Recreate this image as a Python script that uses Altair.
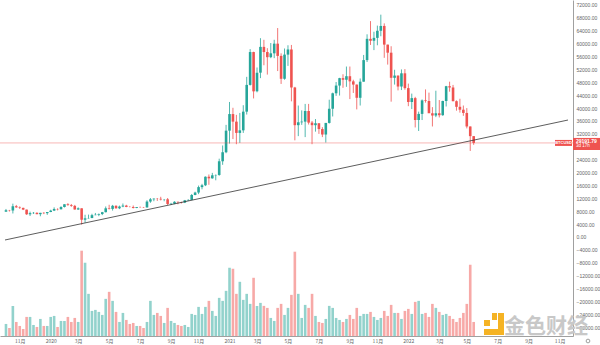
import altair as alt
import pandas as pd

# Weekly BTCUSD candles, first week starting 2019-10-07
OPEN = [7860, 8300, 8220, 9550, 9200, 9040, 8500, 7050, 7400, 7500, 7080, 7500, 7390,
        7760, 8180, 8700, 8600, 9300, 10150, 9900, 9660, 8530, 8900, 5360, 5800, 5880, 6780, 6900, 7120, 7700,
        8900, 8720, 9680, 8900, 9450, 9750, 9330, 9300, 9010, 9280, 9240, 9170, 11000, 11700, 11900, 11850,
        11650, 11700, 10250, 10330, 10930, 10770, 10670, 11390, 11500, 13030, 13800, 15480, 16050, 18700,
        18200, 19150, 19250, 23500, 26300,
        33000, 38150, 35800, 32300, 33100, 38900, 47200, 57400, 45200, 51000, 59000, 57400, 55800, 57000,
        60000, 56200, 49100, 56600, 58200, 46400, 34700, 35600, 35800, 39100, 35500, 34700, 35300, 33500,
        31800, 35400, 39800, 44600, 47000, 49300, 48800, 49900, 48300, 47300, 43200, 48200, 54900, 61500,
        60900, 61800, 64000, 65500, 59700, 57200, 49400, 50100, 46700, 50800,
        46200, 41900, 43100, 36300, 38200, 42400, 42200, 38400, 37700, 38400, 37800, 42200, 46800, 46400,
        42150, 40400, 39500, 38500, 34300, 31300]
HIGH = [8700, 8410, 10350, 9950, 9500, 9100, 8500, 7870, 7750, 7670, 7500, 7700, 7520,
        8450, 9200, 8900, 9550, 10150, 10500, 10250, 9960, 9190, 8900, 6900, 6950, 7200, 7460, 7300, 7790, 9470,
        10000, 9950, 9840, 9750, 10400, 9990, 9580, 9770, 9300, 9450, 9320, 11400, 12100, 12000, 12100, 12480,
        11800, 12100, 10600, 11100, 10980, 10940, 11500, 11720, 13350, 14060, 15960, 16500, 18800, 19400,
        19900, 19400, 24300, 28400, 34800,
        41900, 40100, 37900, 38500, 40900, 49700, 58300, 57500, 52600, 61700, 61200, 58600, 60200, 61200,
        64850, 57000, 58500, 59500, 59600, 46600, 40800, 39300, 41300, 41300, 36000, 36600, 35300, 34100,
        35400, 42600, 44800, 48100, 49400, 50500, 52900, 52900, 48800, 47300, 49200, 56500, 62900, 67000,
        63700, 65600, 69000, 66300, 59700, 59200, 51900, 50100, 52000, 52100,
        47600, 44500, 43500, 38900, 42700, 45800, 44800, 40300, 45400, 42500, 42300, 46900, 48200, 47200,
        42400, 42900, 40800, 40000, 34300, 31300]
LOW = [7800, 7900, 7300, 9070, 8700, 8350, 6850, 6520, 7150, 7050, 6430, 7100, 6870,
       7700, 8050, 8250, 8550, 9150, 9700, 9350, 8500, 8430, 3850, 4450, 5700, 5860, 6750, 6460, 6780, 7640,
       8530, 8200, 8800, 8650, 9250, 9250, 9200, 8850, 8950, 9060, 9050, 9150, 10600, 11100, 11200, 11350,
       11100, 9900, 9900, 10200, 10140, 10380, 10530, 11230, 11400, 12950, 13300, 14800, 15800, 16200,
       18100, 17600, 19000, 22400, 26000,
       29000, 30400, 28800, 29200, 32300, 38000, 47000, 43000, 44900, 49300, 53300, 50400, 55500, 55500,
       51500, 47500, 48800, 53100, 42100, 30000, 31300, 34800, 31000, 34900, 28800, 32700, 32000, 31000,
       29300, 35200, 37400, 43800, 43900, 46300, 46600, 42800, 44700, 39600, 40800, 48200, 54300, 59600,
       58000, 59500, 62300, 55600, 53500, 42000, 47300, 45500, 45600, 45700,
       40600, 39700, 34000, 32900, 36300, 41700, 39500, 34300, 37200, 37100, 37600, 40500, 45100, 42100,
       39200, 38600, 37600, 33700, 26700, 28600]
CLOSE = [8300, 8220, 9550, 9200, 9040, 8500, 7050, 7400, 7500, 7080, 7500, 7390, 7760,
         8180, 8700, 8600, 9300, 10150, 9900, 9660, 8530, 8900, 5360, 5800, 5880, 6780, 6900, 7120, 7700, 8900,
         8720, 9680, 8900, 9450, 9750, 9330, 9300, 9010, 9280, 9240, 9170, 11000, 11700, 11900, 11850, 11650,
         11700, 10250, 10330, 10930, 10770, 10670, 11390, 11500, 13030, 13800, 15480, 16050, 18700, 18200,
         19150, 19250, 23500, 26300, 33000,
         38150, 35800, 32300, 33100, 38900, 47200, 57400, 45200, 51000, 59000, 57400, 55800, 57000, 60000,
         56200, 49100, 56600, 58200, 46400, 34700, 35600, 35800, 39100, 35500, 34700, 35300, 33500, 31800,
         35400, 39800, 44600, 47000, 49300, 48800, 49900, 48300, 47300, 43200, 48200, 54900, 61500, 60900,
         61800, 64000, 65500, 59700, 57200, 49400, 50100, 46700, 50800, 46200,
         41900, 43100, 36300, 38200, 42400, 42200, 38400, 37700, 38400, 37800, 42200, 46800, 46400, 42150,
         40400, 39500, 38500, 34300, 31300, 29191.79]
VOLUME = [12, 8, 30, 14, 10, 7, 19, 19, 11, 9, 17, 10, 10,
          19, 20, 9, 15, 15, 19, 14, 18, 14, 85, 73, 42, 25, 26, 24, 21, 37,
          44, 35, 24, 14, 23, 16, 12, 13, 10, 10, 8, 14, 35, 21, 23, 20,
          13, 28, 15, 13, 11, 10, 11, 9, 22, 21, 29, 22, 29, 35,
          25, 20, 38, 35, 45,
          68, 67, 42, 54, 36, 42, 32, 58, 30, 33, 30, 28, 18, 15,
          28, 32, 21, 28, 41, 84, 42, 18, 31, 28, 42, 20, 14, 13,
          17, 30, 28, 18, 16, 14, 17, 21, 17, 28, 20, 22, 22, 24,
          19, 16, 18, 25, 20, 31, 23, 23, 17, 25,
          27, 22, 34, 35, 22, 23, 19, 32, 28, 24, 21, 22, 20, 17,
          14, 18, 23, 32, 71, 14]

TREND_DATES = ["2019-10-05", "2022-11-24"]
TREND_VALUES = [-930, 36300]

# 28000 is hidden behind the last-price tag in the reference
TICK_VALUES = [v for v in range(-28000, 72001, 4000) if v != 28000]
LABEL_DATES = [(2019, 11, 4), (2020, 1, 6), (2020, 3, 2), (2020, 5, 4), (2020, 7, 6), (2020, 9, 7),
               (2020, 11, 2), (2021, 1, 4), (2021, 3, 1), (2021, 5, 3), (2021, 7, 5), (2021, 9, 6),
               (2021, 11, 1), (2022, 1, 3), (2022, 3, 7), (2022, 5, 2), (2022, 7, 4), (2022, 9, 5),
               (2022, 11, 7)]

SYMBOL = "BTCUSD"
COUNTDOWN = "3d 17h"

UP = "#26a69a"
DOWN = "#ef5350"
FONT = "Liberation Sans"

n = len(OPEN)
dates = pd.date_range("2019-10-07", periods=n, freq="7D").strftime("%Y-%m-%d")
df = pd.DataFrame({
    "date": dates, "open": OPEN, "high": HIGH, "low": LOW, "close": CLOSE, "volume": VOLUME,
})
df["dir"] = ["up" if c >= o else "down" for o, c in zip(OPEN, CLOSE)]

tdf = pd.DataFrame({"date": TREND_DATES, "value": TREND_VALUES})

last = CLOSE[-1]
pdf = pd.DataFrame({
    "price": [last],
    "label": [f"{last:.2f}"],
    "cd": [COUNTDOWN],
    "sym": [SYMBOL],
    "btop": [last + 1550], "bbot": [last - 2200],
    "stop": [last + 930], "sbot": [last - 930],
})

xscale = alt.Scale(type="utc", domain=[alt.DateTime(year=2019, month=10, date=5, utc=True),
                                       alt.DateTime(year=2022, month=11, date=24, utc=True)])
xaxis = alt.Axis(
    values=[alt.DateTime(year=y, month=m, date=d, utc=True) for (y, m, d) in LABEL_DATES],
    labelExpr="utcmonth(datum.value) == 0 ? '' + utcyear(datum.value) : (utcmonth(datum.value) + 1) + '月'",
    labelFontSize=5, labelColor="#666", labelFont="Noto Sans CJK SC", ticks=False,
    labelPadding=2, domainColor="#888", domainWidth=0.8, grid=False, title=None,
    labelOverlap=False,
)
X = alt.X("date:T", scale=xscale, axis=xaxis)

yscale = alt.Scale(domain=[-30725, 73550], nice=False, zero=False)
yaxis = alt.Axis(orient="right", values=TICK_VALUES, format=".2f", labelFontSize=5, labelColor="#666",
                 labelFont=FONT, ticks=False, labelPadding=3, domainColor="#888", domainWidth=0.8,
                 grid=False, title=None, labelOverlap=False, labelBound=False)


def Y(field):
    return alt.Y(field, scale=yscale, axis=yaxis)


color = alt.Color("dir:N", scale=alt.Scale(domain=["up", "down"], range=[UP, DOWN]), legend=None)

vol = alt.Chart(df).mark_bar(size=2.6, opacity=0.5).encode(
    x=X,
    y=alt.Y("volume:Q", scale=alt.Scale(domain=[0, max(VOLUME) * 336 / 85.3], nice=False), axis=None),
    color=color,
)

wick = alt.Chart(df).mark_rule(strokeWidth=0.8).encode(x=X, y=Y("low:Q"), y2="high:Q", color=color)
body = alt.Chart(df).mark_bar(size=2.6).encode(x=X, y=Y("open:Q"), y2="close:Q", color=color)
trend = alt.Chart(tdf).mark_line(color="#333333", strokeWidth=0.8, clip=True).encode(x=X, y=Y("value:Q"))
pline = alt.Chart(pdf).mark_rule(color=DOWN, strokeWidth=0.7, opacity=0.6).encode(y=Y("price:Q"))
pbox = alt.Chart(pdf).mark_rect(color=DOWN).encode(
    x=alt.value(573), x2=alt.value(600), y=Y("btop:Q"), y2="bbot:Q")
ptext = alt.Chart(pdf).mark_text(color="white", fontSize=5, font=FONT, fontWeight="bold",
                                 align="left", baseline="middle", dy=-1.5).encode(
    x=alt.value(576), y=Y("price:Q"), text="label:N")
ptext2 = alt.Chart(pdf).mark_text(color="white", fontSize=4.5, font=FONT, align="left",
                                  baseline="middle", dy=3.5).encode(
    x=alt.value(576), y=Y("price:Q"), text="cd:N")
sbox = alt.Chart(pdf).mark_rect(color=DOWN).encode(
    x=alt.value(555), x2=alt.value(572), y=Y("stop:Q"), y2="sbot:Q")
stext = alt.Chart(pdf).mark_text(color="white", fontSize=4, font=FONT, fontWeight="bold",
                                 align="center", baseline="middle").encode(
    x=alt.value(563.5), y=Y("price:Q"), text="sym:N")

price = alt.layer(wick, body, trend, pline, pbox, ptext, ptext2, sbox, stext)

one = pd.DataFrame({"k": [0]})
LOGO = "#f5b324"
logo_parts = []
for (x1, x2, y1, y2) in [(492, 497, 313, 320), (498, 504, 313, 320), (498, 504, 320, 335),
                          (484, 504, 329, 335), (484, 490, 320, 326)]:
    logo_parts.append(alt.Chart(one).mark_rect(color=LOGO).encode(
        x=alt.value(x1), x2=alt.value(x2), y=alt.value(y1), y2=alt.value(y2)))
wm = alt.Chart(one).mark_text(text="金色财经", font="Noto Sans CJK SC", fontSize=21, fontWeight="bold",
                              color="#c8c8c8", align="center", baseline="middle").encode(
    x=alt.value(546), y=alt.value(327))
icon = alt.Chart(one).mark_point(shape="circle", size=14, color="#555", filled=False, strokeWidth=0.8).encode(
    x=alt.value(588), y=alt.value(341))

chart = alt.layer(vol, price, wm, *logo_parts, icon).resolve_scale(y="independent").properties(
    width=573, height=336,
    autosize=alt.AutoSizeParams(type="none"),
    padding={"left": 0, "top": 0, "right": 27, "bottom": 9},
    background="white",
).configure_view(stroke=None)

chart.save("out.html", embed_options={"renderer": "svg", "actions": False})
